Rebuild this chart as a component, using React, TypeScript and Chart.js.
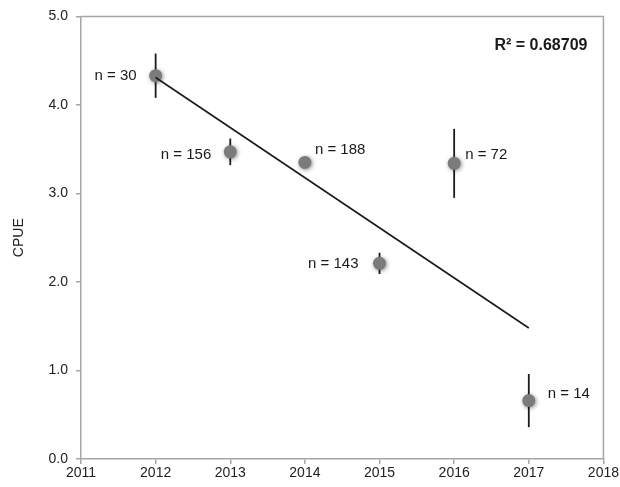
import React, { useEffect, useRef } from "react";
import { Chart, registerables } from "chart.js";

Chart.register(...registerables);

// Data
const years = [2012, 2013, 2014, 2015, 2016, 2017];
const cpue = [4.33, 3.47, 3.35, 2.21, 3.34, 0.66];
const errors = [0.25, 0.15, 0.04, 0.12, 0.39, 0.3];
const sampleSizes = [30, 156, 188, 143, 72, 14];
const trendYears = [2012, 2017];
const trendValues = [4.31, 1.48];
const rSquaredText = "R² = 0.68709";
const xTicks = [2011, 2012, 2013, 2014, 2015, 2016, 2017, 2018];
const yTicks = [0, 1, 2, 3, 4, 5];

const FONT = "'Liberation Sans', Arial, sans-serif";

export default function App() {
  const canvasRef = useRef<HTMLCanvasElement | null>(null);

  useEffect(() => {
    document.body.style.margin = "0";
    const canvas = canvasRef.current;
    if (!canvas) return;

    // label placement: [dx, dy, align]
    const labelPlacement: [number, number, CanvasTextAlign][] = [
      [-19, 0, "right"],
      [-19, 3, "right"],
      [10, -13, "left"],
      [-21, 0, "right"],
      [11, -8, "left"],
      [19, -7, "left"],
    ];

    const overlay = {
      id: "overlay",
      beforeDatasetsDraw(chart: any) {
        const { ctx, chartArea } = chart;
        const xs = chart.scales.x;
        const ys = chart.scales.y;
        ctx.save();
        ctx.strokeStyle = "#a6a6a6";
        ctx.lineWidth = 1.5;
        ctx.beginPath();
        ctx.moveTo(chartArea.left, chartArea.top);
        ctx.lineTo(chartArea.right, chartArea.top);
        ctx.lineTo(chartArea.right, chartArea.bottom);
        ctx.stroke();
        ctx.strokeStyle = "#1a1a1a";
        ctx.lineWidth = 1.8;
        years.forEach((yr, i) => {
          const px = xs.getPixelForValue(yr);
          const y1 = ys.getPixelForValue(cpue[i] + errors[i]);
          const y2 = ys.getPixelForValue(cpue[i] - errors[i]);
          ctx.beginPath();
          ctx.moveTo(px, y1);
          ctx.lineTo(px, y2);
          ctx.stroke();
        });
        ctx.restore();
      },
      beforeDatasetDraw(chart: any, args: any) {
        if (args.index === 1) {
          const ctx = chart.ctx;
          ctx.save();
          ctx.shadowColor = "rgba(0,0,0,0.45)";
          ctx.shadowBlur = 4;
          ctx.shadowOffsetX = 1;
          ctx.shadowOffsetY = 1;
        }
      },
      afterDatasetDraw(chart: any, args: any) {
        if (args.index === 1) {
          chart.ctx.restore();
        }
      },
      afterDatasetsDraw(chart: any) {
        const { ctx, chartArea } = chart;
        const xs = chart.scales.x;
        const ys = chart.scales.y;
        ctx.save();
        ctx.fillStyle = "#1a1a1a";
        ctx.font = `15px ${FONT}`;
        ctx.textBaseline = "middle";
        years.forEach((yr, i) => {
          const px = xs.getPixelForValue(yr);
          const py = ys.getPixelForValue(cpue[i]);
          const [dx, dy, align] = labelPlacement[i];
          ctx.textAlign = align;
          ctx.fillText(`n = ${sampleSizes[i]}`, px + dx, py + dy);
        });
        ctx.font = `bold 16px ${FONT}`;
        ctx.textAlign = "right";
        ctx.fillText(rSquaredText, chartArea.right - 16, chartArea.top + 29);
        ctx.restore();
      },
    };

    const chart = new Chart(canvas, {
      type: "scatter",
      data: {
        datasets: [
          {
            type: "line",
            data: trendYears.map((x, i) => ({ x, y: trendValues[i] })),
            borderColor: "#1a1a1a",
            borderWidth: 1.6,
            pointRadius: 0,
            fill: false,
            order: 0,
          } as any,
          {
            type: "scatter",
            data: years.map((x, i) => ({ x, y: cpue[i] })),
            backgroundColor: "#7b7b7b",
            borderWidth: 0,
            pointRadius: 6.5,
            order: 1,
          },
        ],
      },
      options: {
        animation: false,
        responsive: false,
        maintainAspectRatio: false,
        events: [],
        layout: { padding: { left: 0, top: 14, right: 16, bottom: 0 } },
        plugins: {
          legend: { display: false },
          tooltip: { enabled: false },
        },
        scales: {
          x: {
            type: "linear",
            min: 2011,
            max: 2018,
            afterBuildTicks: (s: any) => {
              s.ticks = xTicks.map((v) => ({ value: v }));
            },
            afterFit: (s: any) => {
              s.height = 28;
            },
            ticks: {
              callback: (v: any) => String(v),
              color: "#222",
              font: { family: FONT, size: 14 },
              padding: 1,
              maxRotation: 0,
            },
            grid: {
              drawOnChartArea: false,
              color: "#a6a6a6",
              lineWidth: 1.5,
              tickLength: 5,
            },
            border: { color: "#a6a6a6", width: 1.5 },
          },
          y: {
            type: "linear",
            min: 0,
            max: 5,
            afterBuildTicks: (s: any) => {
              s.ticks = yTicks.map((v) => ({ value: v }));
            },
            afterFit: (s: any) => {
              s.width = 81;
            },
            ticks: {
              callback: (v: any) => Number(v).toFixed(1),
              color: "#222",
              font: { family: FONT, size: 14 },
              padding: 8,
            },
            grid: {
              drawOnChartArea: false,
              color: "#a6a6a6",
              lineWidth: 1.5,
              tickLength: 5,
            },
            border: { color: "#a6a6a6", width: 1.5 },
            title: {
              display: true,
              text: "CPUE",
              color: "#222",
              font: { family: FONT, size: 14 },
              padding: { top: 11, bottom: 4 },
            },
          },
        },
      },
      plugins: [overlay],
    });

    return () => chart.destroy();
  }, []);

  return (
    <div style={{ width: 620, height: 487, background: "#fff" }}>
      <canvas ref={canvasRef} width={620} height={487} style={{ display: "block" }} />
    </div>
  );
}
